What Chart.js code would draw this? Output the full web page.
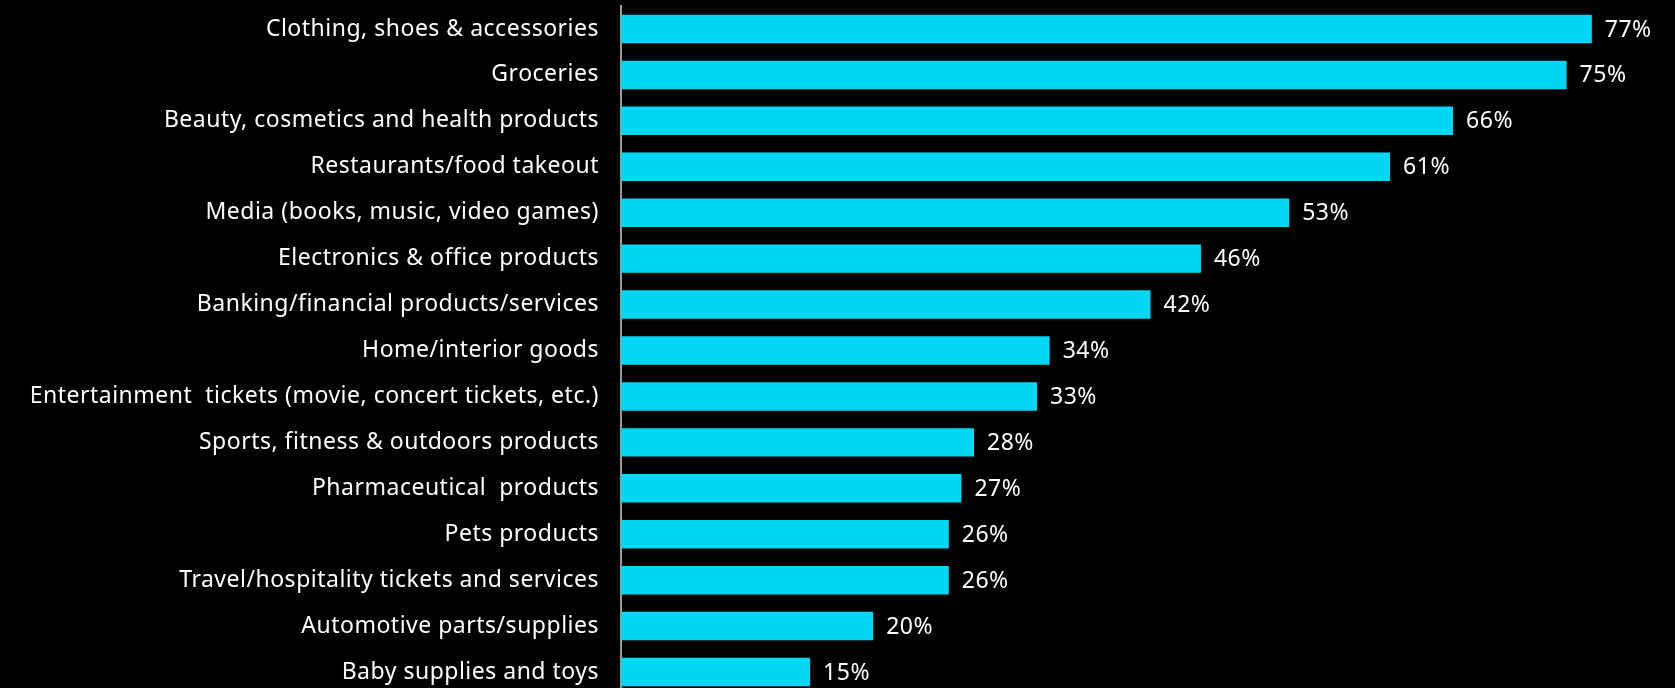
<!DOCTYPE html>
<html>
<head>
<meta charset="utf-8">
<script src="https://cdn.jsdelivr.net/npm/chart.js@4"></script>
<style>
  html, body { margin: 0; padding: 0; background: #000; overflow: hidden; }
  .chart_div { width: 1675px; height: 695px; position: relative; }
</style>
</head>
<body>
<div class="chart_div"><canvas id="chart"></canvas></div>
<script>
const categories = [
    "Clothing, shoes & accessories",
    "Groceries",
    "Beauty, cosmetics and health products",
    "Restaurants/food takeout",
    "Media (books, music, video games)",
    "Electronics & office products",
    "Banking/financial products/services",
    "Home/interior goods",
    "Entertainment  tickets (movie, concert tickets, etc.)",
    "Sports, fitness & outdoors products",
    "Pharmaceutical  products",
    "Pets products",
    "Travel/hospitality tickets and services",
    "Automotive parts/supplies",
    "Baby supplies and toys"
];
const shares = [77, 75, 66, 61, 53, 46, 42, 34, 33, 28, 27, 26, 26, 20, 15];

const fontFamily = "'Noto Sans', sans-serif";
const fontSize = 23;

// slightly wider text, the original font is a wide geometric sans
const spacing = {
    id: "spacing",
    beforeDraw(chart) {
        chart.ctx.letterSpacing = "0.5px";
    }
};

// draws the "77%" style labels just right of each bar
const valueLabels = {
    id: "valueLabels",
    afterDatasetsDraw(chart) {
        const c = chart.ctx;
        const meta = chart.getDatasetMeta(0);
        c.save();
        c.fillStyle = "#ffffff";
        c.font = fontSize + "px " + fontFamily;
        c.textBaseline = "middle";
        c.textAlign = "left";
        meta.data.forEach(function (bar, i) {
            c.fillText(shares[i] + "%", bar.x + 13, bar.y + 1);
        });
        c.restore();
    }
};

new Chart(document.getElementById("chart"), {
    type: "bar",
    data: {
        labels: categories,
        datasets: [{
            data: shares,
            backgroundColor: "#00d7f5",
            borderWidth: 0,
            barPercentage: 0.62,
            categoryPercentage: 1
        }]
    },
    options: {
        indexAxis: "y",
        responsive: true,
        maintainAspectRatio: false,
        animation: false,
        layout: { padding: { top: 6, bottom: 0, right: 0 } },
        plugins: {
            legend: { display: false },
            tooltip: { enabled: false }
        },
        scales: {
            x: {
                display: false,
                min: 0,
                max: 83.6
            },
            y: {
                afterFit: function (scale) {
                    scale.width = 621;
                    scale.paddingTop = 0;
                    scale.paddingBottom = 0;
                },
                grid: { display: false, drawTicks: false },
                border: { display: true, color: "#9a9a9a", width: 2 },
                ticks: {
                    color: "#ffffff",
                    padding: 22,
                    font: { family: fontFamily, size: fontSize }
                }
            }
        }
    },
    plugins: [spacing, valueLabels]
});
</script>
</body>
</html>
